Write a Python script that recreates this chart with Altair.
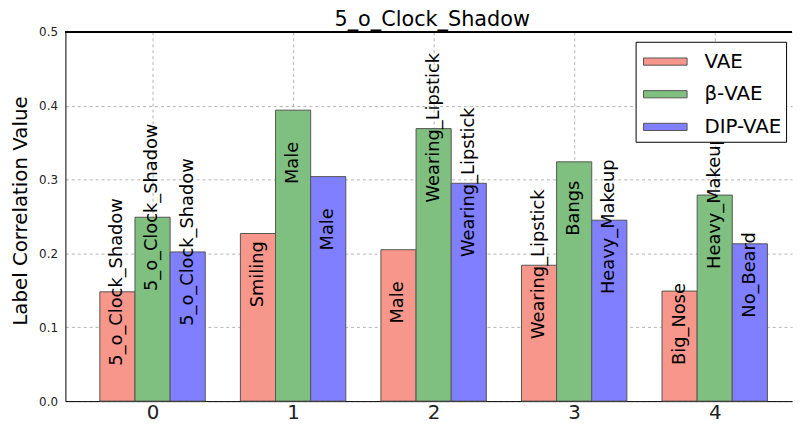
import altair as alt
import pandas as pd

categories = [0, 1, 2, 3, 4]
models = ["VAE", "β-VAE", "DIP-VAE"]
vae_values = [0.148, 0.227, 0.205, 0.184, 0.149]
beta_values = [0.249, 0.394, 0.369, 0.324, 0.279]
dip_values = [0.202, 0.304, 0.295, 0.245, 0.213]
vae_labels = ["5_o_Clock_Shadow", "Smiling", "Male", "Wearing_Lipstick", "Big_Nose"]
beta_labels = ["5_o_Clock_Shadow", "Male", "Wearing_Lipstick", "Bangs", "Heavy_Makeup"]
dip_labels = ["5_o_Clock_Shadow", "Male", "Wearing_Lipstick", "Heavy_Makeup", "No_Beard"]
colors = ["#F7968B", "#7FBF7F", "#7F7FFF"]
y_ticks = [0.0, 0.1, 0.2, 0.3, 0.4, 0.5]

series_values = [vae_values, beta_values, dip_values]
series_labels = [vae_labels, beta_labels, dip_labels]
rows = []
for i, cat in enumerate(categories):
    for j, model in enumerate(models):
        rows.append({"cat": cat, "model": model, "idx": j,
                     "value": series_values[j][i], "label": series_labels[j][i]})
df = pd.DataFrame(rows)

FONT = "DejaVu Sans"
xscale = alt.Scale(domain=[-0.62, 4.55], nice=False, zero=False)
yscale = alt.Scale(domain=[0, 0.5], nice=False, zero=False)

base = alt.Chart(df).transform_calculate(
    xc="datum.cat + (datum.idx - 1) * 0.25",
    x0="datum.cat + (datum.idx - 1) * 0.25 - 0.125",
    x1="datum.cat + (datum.idx - 1) * 0.25 + 0.125",
    ly="datum.value - 0.1",
    zero="0",
)

bars = base.mark_rect(stroke="#555555", strokeWidth=1).encode(
    x=alt.X("x0:Q", scale=xscale,
            axis=alt.Axis(values=categories, format="d", title=None,
                          labelFontSize=20, labelPadding=2)),
    x2="x1:Q",
    y=alt.Y("value:Q", scale=yscale,
            axis=alt.Axis(values=y_ticks, format=".1f", title="Label Correlation Value",
                          labelFontSize=12, labelPadding=8,
                          titleFontSize=20, titleFontWeight="normal", titleColor="black",
                          titleFont=FONT, titleAngle=270, titleAlign="center",
                          titleBaseline="alphabetic", titleX=-39, titleY=180.5)),
    y2="zero:Q",
    color=alt.Color("model:N", scale=alt.Scale(domain=models, range=colors),
                    legend=alt.Legend(
                        title=None, orient="none", legendX=576, legendY=10,
                        symbolType="M-1.467,-0.243L1.467,-0.243L1.467,0.243L-1.467,0.243Z",
                        symbolSize=900, symbolStrokeColor="#555555", symbolStrokeWidth=1,
                        symbolOffset=10, symbolOpacity=1,
                        labelFontSize=20, labelFont=FONT, labelColor="black", labelOffset=24,
                        labelExpr="datum.label + '\u2009'",
                        padding=4.5, rowPadding=7, strokeColor="black", fillColor="white")),
)

labels = base.mark_text(angle=270, align="left", baseline="middle", fontSize=18,
                        font=FONT, color="black").encode(
    x=alt.X("xc:Q", scale=xscale),
    y=alt.Y("ly:Q", scale=yscale),
    text="label:N",
)

top = base.mark_rule(color="black", strokeWidth=1).encode(y=alt.datum(0.5))

chart = alt.layer(bars, labels, top).properties(
    width=734, height=373,
    autosize=alt.AutoSizeParams(type="none"),
    padding={"left": 58, "top": 22, "right": 1, "bottom": 22},
    title=alt.Title("5_o_Clock_Shadow", fontSize=21, font=FONT, fontWeight="normal",
                    color="black", anchor="middle", dx=3.5, offset=-4),
).configure_view(stroke=None).configure_axis(
    labelFont=FONT, labelColor="#222222", domainColor="black", domainWidth=1,
    grid=True, gridColor="black", gridOpacity=0.3, gridDash=[3, 3], gridWidth=1,
    ticks=False, zindex=1,
)

chart.save("out.html", embed_options={"renderer": "svg", "actions": False})
